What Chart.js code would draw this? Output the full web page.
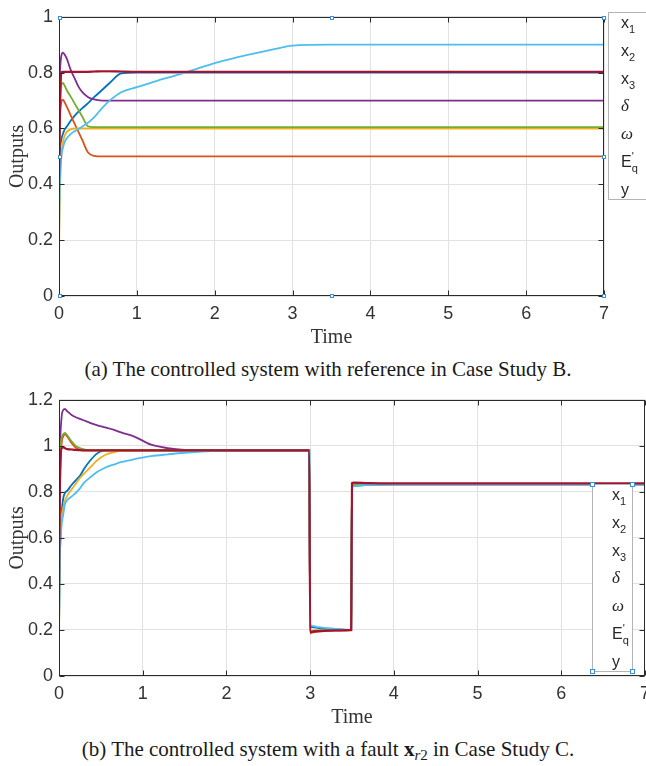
<!DOCTYPE html>
<html>
<head>
<meta charset="utf-8">
<script src="https://cdn.jsdelivr.net/npm/chart.js@4/dist/chart.umd.min.js"></script>
<style>
html,body{margin:0;padding:0;width:646px;height:766px;overflow:hidden;background:#fff;}
canvas{position:absolute;left:0;}
#cA{top:0;}
#cB{top:383px;}
.cap{position:absolute;left:0;width:656px;text-align:center;font-family:"Liberation Serif",serif;font-size:21px;line-height:24px;color:#1a1a1a;white-space:nowrap;}
.cap sub{font-size:15px;line-height:0;vertical-align:-4px;}
.legbox{position:absolute;border:1px solid #b4b4b4;background:#fff;box-sizing:border-box;}
.legrows{position:absolute;font-family:"Liberation Sans",sans-serif;font-size:16px;color:#262626;}
.legrows div{height:27.75px;line-height:27.75px;white-space:nowrap;}
.legrows sub{font-size:11px;line-height:0;vertical-align:-5px;}
.legrows sup{font-size:11px;line-height:0;vertical-align:7px;}
.legrows i{font-family:"Liberation Serif",serif;font-size:17px;}
.h{position:absolute;width:3px;height:3px;border:1px solid #3c8fd9;background:#fff;}
</style>
</head>
<body>
<canvas id="cA" width="646" height="350"></canvas>
<canvas id="cB" width="657" height="347"></canvas>
<div class="cap" style="top:357px;">(a) The controlled system with reference in Case Study B.</div>
<div class="cap" style="top:737px;">(b) The controlled system with a fault <b>x</b><sub><i>r</i>2</sub> in Case Study C.</div>
<div class="legbox" style="left:608px;top:12px;width:60px;height:188px;"></div>
<div class="legrows" id="legA" style="left:621px;top:9px;"></div>
<div class="legbox" style="left:592px;top:484px;width:41px;height:188px;"></div>
<div class="legrows" id="legB" style="left:612px;top:481px;"></div>
<div class="h" style="left:590px;top:482px;"></div>
<div class="h" style="left:630px;top:482px;"></div>
<div class="h" style="left:590px;top:669px;"></div>
<div class="h" style="left:630px;top:669px;"></div>
<script>
// ---------- series names / colours ----------
const seriesNames = ['x1', 'x2', 'x3', 'δ', 'ω', "E'q", 'y'];
const seriesColors = ['#0072BD', '#D95319', '#EDB120', '#7E2F8E', '#77AC30', '#4DBEEE', '#A2142F'];

// ---------- tick labels ----------
const xTicks = [0, 1, 2, 3, 4, 5, 6, 7];
const yTicksA = [0, 0.2, 0.4, 0.6, 0.8, 1];
const yTicksB = [0, 0.2, 0.4, 0.6, 0.8, 1, 1.2];

// ---------- (a) Case Study B ----------
const timeA = [0, 0.01, 0.03, 0.05, 0.07, 0.1, 0.15, 0.2, 0.25, 0.3, 0.37, 0.45, 0.55, 0.65, 0.8, 1.0, 1.25, 1.5, 1.75, 2.0, 2.25, 2.5, 2.75, 3.0, 3.5, 4, 5, 6, 7];
const x1A = [0.35, 0.50, 0.56, 0.58, 0.595, 0.607, 0.628, 0.645, 0.66, 0.673, 0.69, 0.712, 0.737, 0.763, 0.797, 0.80, 0.80, 0.80, 0.80, 0.80, 0.80, 0.80, 0.80, 0.80, 0.80, 0.80, 0.80, 0.80, 0.80];
const x2A = [0.45, 0.62, 0.695, 0.703, 0.695, 0.678, 0.647, 0.617, 0.588, 0.558, 0.515, 0.502, 0.50, 0.50, 0.50, 0.50, 0.50, 0.50, 0.50, 0.50, 0.50, 0.50, 0.50, 0.50, 0.50, 0.50, 0.50, 0.50, 0.50];
const x3A = [0.14, 0.35, 0.50, 0.55, 0.572, 0.588, 0.597, 0.60, 0.60, 0.60, 0.60, 0.60, 0.60, 0.60, 0.60, 0.60, 0.60, 0.60, 0.60, 0.60, 0.60, 0.60, 0.60, 0.60, 0.60, 0.60, 0.60, 0.60, 0.60];
const deltaA = [0.63, 0.78, 0.86, 0.872, 0.866, 0.85, 0.81, 0.78, 0.75, 0.73, 0.713, 0.704, 0.70, 0.70, 0.70, 0.70, 0.70, 0.70, 0.70, 0.70, 0.70, 0.70, 0.70, 0.70, 0.70, 0.70, 0.70, 0.70, 0.70];
const omegaA = [0.50, 0.68, 0.755, 0.763, 0.755, 0.737, 0.714, 0.69, 0.666, 0.642, 0.608, 0.605, 0.605, 0.605, 0.605, 0.605, 0.605, 0.605, 0.605, 0.605, 0.605, 0.605, 0.605, 0.605, 0.605, 0.605, 0.605, 0.605, 0.605];
const eqA = [0.20, 0.40, 0.50, 0.53, 0.55, 0.565, 0.58, 0.59, 0.598, 0.607, 0.62, 0.64, 0.672, 0.70, 0.73, 0.748, 0.77, 0.79, 0.812, 0.834, 0.852, 0.868, 0.883, 0.897, 0.90, 0.90, 0.90, 0.90, 0.90];
const yA = [0.42, 0.62, 0.80, 0.803, 0.803, 0.803, 0.803, 0.803, 0.803, 0.803, 0.803, 0.804, 0.805, 0.805, 0.804, 0.803, 0.803, 0.803, 0.803, 0.803, 0.803, 0.803, 0.803, 0.803, 0.803, 0.803, 0.803, 0.803, 0.803];

// ---------- (b) Case Study C ----------
const timeB = [0, 0.01, 0.03, 0.05, 0.07, 0.1, 0.15, 0.2, 0.25, 0.3, 0.37, 0.45, 0.55, 0.65, 0.75, 0.9, 1.1, 1.3, 1.5, 1.75, 2.0, 2.5, 2.99, 3.0, 3.02, 3.1, 3.3, 3.49, 3.5, 3.52, 3.7, 4, 5, 6, 7];
const x1B = [0.20, 0.50, 0.70, 0.77, 0.795, 0.805, 0.83, 0.85, 0.87, 0.90, 0.935, 0.965, 0.98, 0.98, 0.98, 0.98, 0.98, 0.98, 0.98, 0.98, 0.98, 0.98, 0.98, 0.215, 0.212, 0.208, 0.203, 0.20, 0.825, 0.83, 0.832, 0.833, 0.833, 0.833, 0.833];
const x2B = [0.45, 0.80, 1.00, 1.04, 1.05, 1.04, 1.012, 0.992, 0.983, 0.98, 0.98, 0.98, 0.98, 0.98, 0.98, 0.98, 0.98, 0.98, 0.98, 0.98, 0.98, 0.98, 0.98, 0.185, 0.188, 0.193, 0.197, 0.198, 0.835, 0.836, 0.835, 0.835, 0.835, 0.835, 0.835];
const x3B = [0.15, 0.50, 0.68, 0.73, 0.76, 0.785, 0.81, 0.835, 0.86, 0.88, 0.905, 0.935, 0.96, 0.972, 0.978, 0.98, 0.98, 0.98, 0.98, 0.98, 0.98, 0.98, 0.98, 0.195, 0.197, 0.199, 0.20, 0.20, 0.828, 0.83, 0.832, 0.833, 0.833, 0.833, 0.833];
const deltaB = [0.62, 0.95, 1.12, 1.155, 1.16, 1.15, 1.134, 1.124, 1.117, 1.11, 1.10, 1.09, 1.08, 1.07, 1.057, 1.04, 1.005, 0.99, 0.982, 0.98, 0.98, 0.98, 0.98, 0.19, 0.192, 0.196, 0.199, 0.20, 0.83, 0.832, 0.833, 0.833, 0.833, 0.833, 0.833];
const omegaB = [0.60, 0.90, 1.03, 1.05, 1.056, 1.045, 1.02, 1.00, 0.99, 0.985, 0.98, 0.98, 0.98, 0.98, 0.98, 0.98, 0.98, 0.98, 0.98, 0.98, 0.98, 0.98, 0.98, 0.19, 0.193, 0.196, 0.199, 0.20, 0.832, 0.833, 0.834, 0.834, 0.834, 0.834, 0.834];
const eqB = [0.20, 0.50, 0.65, 0.70, 0.745, 0.765, 0.78, 0.795, 0.815, 0.84, 0.862, 0.885, 0.905, 0.918, 0.93, 0.942, 0.955, 0.963, 0.97, 0.976, 0.98, 0.98, 0.98, 0.222, 0.218, 0.212, 0.205, 0.20, 0.82, 0.825, 0.83, 0.833, 0.833, 0.833, 0.833];
const yB = [0.40, 0.80, 0.99, 0.993, 0.99, 0.986, 0.984, 0.982, 0.981, 0.98, 0.98, 0.98, 0.98, 0.98, 0.98, 0.98, 0.98, 0.98, 0.98, 0.98, 0.98, 0.98, 0.98, 0.19, 0.192, 0.195, 0.198, 0.20, 0.838, 0.84, 0.838, 0.837, 0.837, 0.837, 0.837];

const seriesA = [x1A, x2A, x3A, deltaA, omegaA, eqA, yA];
const seriesB = [x1B, x2B, x3B, deltaB, omegaB, eqB, yB];

// ---------- legend markup from names ----------
function legendHTML(name) {
  let m;
  if ((m = name.match(/^x(\d)$/))) return 'x<sub>' + m[1] + '</sub>';
  if (name === 'δ' || name === 'ω') return '<i>' + name + '</i>';
  if (name === "E'q") return 'E<sup>\'</sup><sub style="margin-left:-2px">q</sub>';
  return name;
}
['legA', 'legB'].forEach(id => {
  document.getElementById(id).innerHTML = seriesNames.map(n => '<div>' + legendHTML(n) + '</div>').join('');
});

// ---------- MATLAB-like axes box, inner ticks, selection handles ----------
const boxPlugin = {
  id: 'matlabBox',
  afterDatasetsDraw(chart, args, opts) {
    const {ctx, chartArea: a, scales} = chart;
    const L = Math.round(a.left) + 0.5, R = Math.round(a.right) - 0.5;
    const T = Math.round(a.top) + 0.5, B = Math.round(a.bottom) - 0.5;
    ctx.save();
    ctx.strokeStyle = '#2b2b2b';
    ctx.lineWidth = 1;
    ctx.strokeRect(L, T, R - L, B - T);
    const tl = 5;
    ctx.beginPath();
    scales.x.ticks.forEach(t => {
      const p = Math.round(scales.x.getPixelForValue(t.value)) + 0.5;
      ctx.moveTo(p, B); ctx.lineTo(p, B - tl);
      ctx.moveTo(p, T); ctx.lineTo(p, T + tl);
    });
    scales.y.ticks.forEach(t => {
      const p = Math.round(scales.y.getPixelForValue(t.value)) + 0.5;
      ctx.moveTo(L, p); ctx.lineTo(L + tl, p);
      ctx.moveTo(R, p); ctx.lineTo(R - tl, p);
    });
    ctx.stroke();
    if (opts && opts.handles) {
      const mx = (L + R) / 2, my = (T + B) / 2;
      [[L, T], [mx, T], [R, T], [L, my], [R, my], [L, B], [mx, B], [R, B]].forEach(([hx, hy]) => {
        const x0 = Math.round(hx) - 2, y0 = Math.round(hy) - 2;
        ctx.fillStyle = '#fff';
        ctx.fillRect(x0, y0, 4, 4);
        ctx.strokeStyle = '#3c8fd9';
        ctx.strokeRect(x0 + 0.5, y0 + 0.5, 3, 3);
      });
    }
    ctx.restore();
  }
};

const tickFont = {family: '"Liberation Sans", Arial, sans-serif', size: 18};
const titleFont = {family: '"Liberation Serif", "Times New Roman", serif', size: 20};
const fmtTick = v => String(Math.round(v * 10) / 10);

function makeChart(id, time, series, yTicks, pad, handles) {
  const datasets = series.map((vals, i) => ({
    label: seriesNames[i],
    data: time.map((t, k) => ({x: t, y: vals[k]})),
    borderColor: seriesColors[i],
    backgroundColor: seriesColors[i],
    borderWidth: i === 6 ? 2.2 : 1.8,
    pointRadius: 0,
    fill: false,
    cubicInterpolationMode: 'monotone',
    order: series.length - i
  }));
  return new Chart(document.getElementById(id), {
    type: 'line',
    data: {datasets},
    options: {
      responsive: false,
      animation: false,
      events: [],
      layout: {padding: pad},
      plugins: {legend: {display: false}, tooltip: {enabled: false}, matlabBox: {handles}},
      scales: {
        x: {
          type: 'linear',
          min: xTicks[0], max: xTicks[xTicks.length - 1],
          afterBuildTicks: s => { s.ticks = xTicks.map(v => ({value: v})); },
          ticks: {color: '#333', font: tickFont, padding: 7, maxRotation: 0, autoSkip: false, callback: fmtTick},
          grid: {color: '#e2e2e2', drawTicks: false},
          border: {display: false},
          title: {display: true, text: 'Time', color: '#333', font: titleFont, padding: {top: 0, bottom: 0}},
          afterFit: s => { s.height = 54; }
        },
        y: {
          type: 'linear',
          min: yTicks[0], max: yTicks[yTicks.length - 1],
          afterBuildTicks: s => { s.ticks = yTicks.map(v => ({value: v})); },
          ticks: {color: '#333', font: tickFont, padding: 6, autoSkip: false, callback: fmtTick},
          grid: {color: '#e2e2e2', drawTicks: false},
          border: {display: false},
          title: {display: true, text: 'Outputs', color: '#333', font: titleFont, padding: {top: 6, bottom: 0}},
          afterFit: s => { s.width = 59; }
        }
      }
    },
    plugins: [boxPlugin]
  });
}

makeChart('cA', timeA, seriesA, yTicksA, {top: 12, right: 42, left: 0, bottom: 0}, true);
makeChart('cB', timeB, seriesB, yTicksB, {top: 10, right: 0, left: 0, bottom: 0}, false);
</script>
</body>
</html>
